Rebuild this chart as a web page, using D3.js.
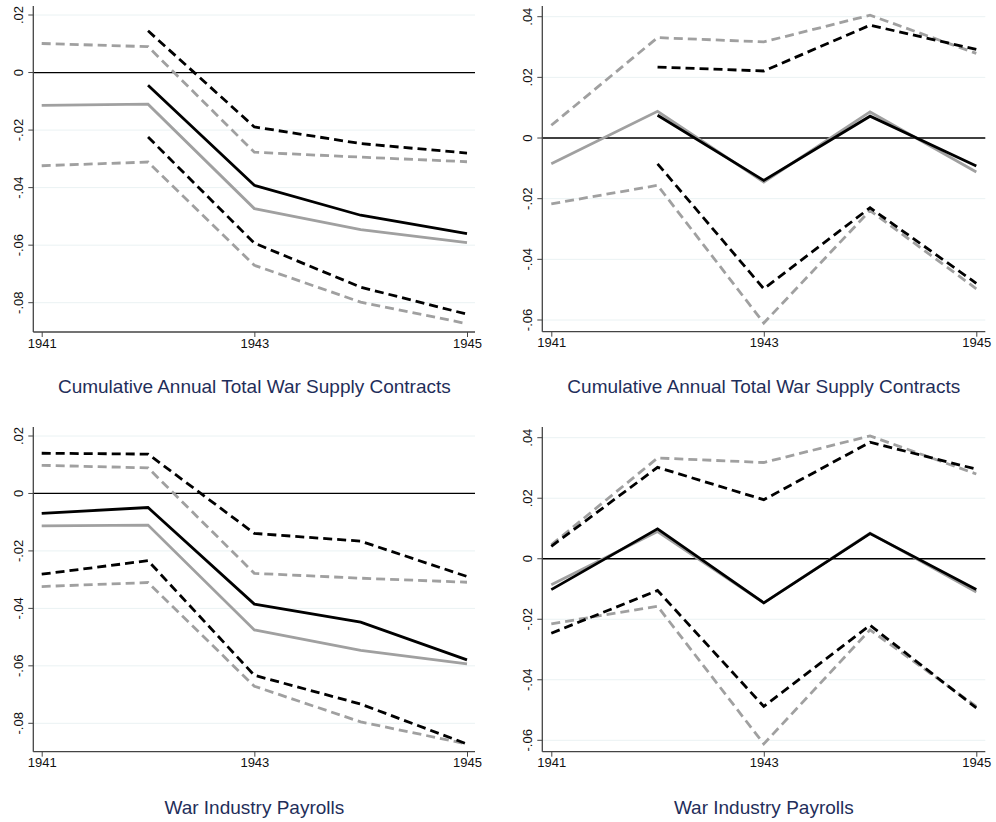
<!DOCTYPE html>
<html><head><meta charset="utf-8">
<script src="https://cdn.jsdelivr.net/npm/d3@7"></script>
<style>body{margin:0;background:#fff}svg{display:block}
.tk{font-family:"Liberation Sans",Arial,sans-serif;font-size:13px;fill:#111}</style>
</head><body>
<svg id="c" width="996" height="822"></svg>
<script>
const years = [1941, 1942, 1943, 1944, 1945];
const xTicks = [1941, 1943, 1945];
const yTicksLeft = [0.02, 0, -0.02, -0.04, -0.06, -0.08];
const yTicksRight = [0.04, 0.02, 0, -0.02, -0.04, -0.06];
const titles = ["Cumulative Annual Total War Supply Contracts", "Cumulative Annual Total War Supply Contracts", "War Industry Payrolls", "War Industry Payrolls"];

// Panel 1 (top-left)
const p1GraySolid = [-0.0114, -0.011, -0.0473, -0.0546, -0.0591];
const p1GrayHi    = [0.0101, 0.009, -0.0277, -0.0294, -0.031];
const p1GrayLo    = [-0.0324, -0.0311, -0.067, -0.0798, -0.0873];
const p1BlackSolid = [null, -0.0044, -0.0392, -0.0496, -0.056];
const p1BlackHi    = [null, 0.0145, -0.0189, -0.0247, -0.028];
const p1BlackLo    = [null, -0.0224, -0.0593, -0.0746, -0.084];

// Panel 2 (top-right)
const p2GraySolid = [-0.0085, 0.0088, -0.0145, 0.0086, -0.0112];
const p2GrayHi    = [0.0042, 0.0331, 0.0317, 0.0405, 0.0279];
const p2GrayLo    = [-0.0217, -0.0156, -0.061, -0.0239, -0.0497];
const p2BlackSolid = [null, 0.0075, -0.014, 0.0072, -0.0092];
const p2BlackHi    = [null, 0.0234, 0.0221, 0.0372, 0.0292];
const p2BlackLo    = [null, -0.0085, -0.0497, -0.023, -0.0479];

// Panel 3 (bottom-left)
const p3GraySolid = [-0.0113, -0.011, -0.0475, -0.0546, -0.0593];
const p3GrayHi    = [0.0098, 0.0089, -0.0278, -0.0295, -0.0309];
const p3GrayLo    = [-0.0324, -0.031, -0.0671, -0.0795, -0.0872];
const p3BlackSolid = [-0.0069, -0.0049, -0.0385, -0.0448, -0.0579];
const p3BlackHi    = [0.014, 0.0137, -0.0139, -0.0166, -0.0289];
const p3BlackLo    = [-0.0281, -0.0234, -0.0633, -0.0733, -0.0872];

// Panel 4 (bottom-right)
const p4GraySolid = [-0.0086, 0.009, -0.0146, 0.0085, -0.011];
const p4GrayHi    = [0.0046, 0.0333, 0.0318, 0.0406, 0.028];
const p4GrayLo    = [-0.0215, -0.0157, -0.0612, -0.0235, -0.0488];
const p4BlackSolid = [-0.0102, 0.0099, -0.0146, 0.0083, -0.0102];
const p4BlackHi    = [0.0041, 0.0302, 0.0195, 0.0385, 0.0296];
const p4BlackLo    = [-0.0246, -0.0105, -0.0488, -0.022, -0.0493];

const panelData = [
  [p1GrayHi, p1GrayLo, p1GraySolid, p1BlackHi, p1BlackLo, p1BlackSolid],
  [p2GrayHi, p2GrayLo, p2GraySolid, p2BlackHi, p2BlackLo, p2BlackSolid],
  [p3GrayHi, p3GrayLo, p3GraySolid, p3BlackHi, p3BlackLo, p3BlackSolid],
  [p4GrayHi, p4GrayLo, p4GraySolid, p4BlackHi, p4BlackLo, p4BlackSolid]
];

const layouts = [
  {axisX: 33.3, right: 475, x0: 41.7, x1: 467, top: 6, bottom: 332, yTop: 15, yBot: 302.7, ticks: yTicksLeft, titleY: 392.5},
  {axisX: 542.3, right: 985.3, x0: 551.3, x1: 976.3, top: 6, bottom: 331.7, yTop: 16.7, yBot: 320, ticks: yTicksRight, titleY: 392.5},
  {axisX: 33.3, right: 475, x0: 41.7, x1: 467, top: 427, bottom: 751.7, yTop: 436, yBot: 723.3, ticks: yTicksLeft, titleY: 813.5},
  {axisX: 542.3, right: 985.3, x0: 551.3, x1: 976.3, top: 427, bottom: 751.7, yTop: 437.7, yBot: 740.3, ticks: yTicksRight, titleY: 813.5}
];

const styles = [
  {color: "#a0a0a0", dash: "9,5", w: 2.8},
  {color: "#a0a0a0", dash: "9,5", w: 2.8},
  {color: "#a0a0a0", dash: null, w: 2.8},
  {color: "#000", dash: "9,5", w: 2.8},
  {color: "#000", dash: "9,5", w: 2.8},
  {color: "#000", dash: null, w: 2.8}
];

const FONT = "Liberation Sans, Arial, sans-serif";
const svg = d3.select("#c");
const fmt = v => v === 0 ? "0" : (v < 0 ? "-" : "") + d3.format(".2f")(Math.abs(v)).replace("0.", ".");

layouts.forEach((L, i) => {
  const x = d3.scaleLinear().domain([1941, 1945]).range([L.x0, L.x1]);
  const yd = d3.extent(L.ticks);
  const y = d3.scaleLinear().domain([yd[1], yd[0]]).range([L.yTop, L.yBot]);
  const g = svg.append("g");

  // gridlines
  g.selectAll(".grid").data(L.ticks.filter(t => t !== 0)).enter().append("line")
    .attr("x1", L.axisX).attr("x2", L.right)
    .attr("y1", d => y(d)).attr("y2", d => y(d))
    .attr("stroke", "#eaf2f3").attr("stroke-width", 1);

  // zero line
  g.append("line").attr("x1", L.axisX).attr("x2", L.right)
    .attr("y1", y(0)).attr("y2", y(0)).attr("stroke", "#000").attr("stroke-width", 1.3);

  // series
  panelData[i].forEach((series, k) => {
    const st = styles[k];
    const line = d3.line().defined(d => d != null).x((d, j) => x(years[j])).y(d => y(d));
    g.append("path").datum(series).attr("d", line)
      .attr("fill", "none").attr("stroke", st.color).attr("stroke-width", st.w)
      .attr("stroke-dasharray", st.dash).attr("stroke-linejoin", "miter");
  });

  // y axis
  const yAxis = d3.axisLeft(y).tickValues(L.ticks).tickSize(5).tickFormat(fmt);
  const ya = g.append("g").attr("transform", `translate(${L.axisX},0)`).call(yAxis);
  ya.select(".domain").remove();
  ya.append("line").attr("x1", 0).attr("x2", 0).attr("y1", L.top).attr("y2", L.bottom)
    .attr("stroke", "#444").attr("stroke-width", 1.3);
  ya.selectAll(".tick line").attr("stroke", "#444");
  ya.selectAll(".tick").attr("transform", null);
  ya.selectAll(".tick line").each(function(d){
    d3.select(this).attr("y1", y(d)).attr("y2", y(d)).attr("x2", -5);
  });
  ya.selectAll(".tick text").each(function(d){
    d3.select(this).attr("class", "tk").attr("transform", `translate(-14.5,${y(d)}) rotate(-90)`)
      .attr("x", 0).attr("y", 4.6).attr("dy", null).attr("fill", null)
      .attr("text-anchor", "middle");
  });

  // x axis
  const xAxis = d3.axisBottom(x).tickValues(xTicks).tickSize(5).tickFormat(d3.format("d"));
  const xa = g.append("g").attr("transform", `translate(0,${L.bottom})`).call(xAxis);
  xa.select(".domain").remove();
  xa.append("line").attr("x1", L.axisX).attr("x2", L.right).attr("y1", 0).attr("y2", 0)
    .attr("stroke", "#444").attr("stroke-width", 1.3);
  xa.selectAll(".tick line").attr("stroke", "#444");
  xa.selectAll(".tick text").attr("class", "tk").attr("fill", null).attr("dy", "0.71em").attr("y", 6.5);

  // title
  g.append("text").attr("x", (L.x0 + L.x1) / 2).attr("y", L.titleY)
    .attr("text-anchor", "middle").attr("font-family", FONT)
    .attr("font-size", 19).attr("fill", "#1f2e5a").text(titles[i]);
});
</script>
</body></html>
